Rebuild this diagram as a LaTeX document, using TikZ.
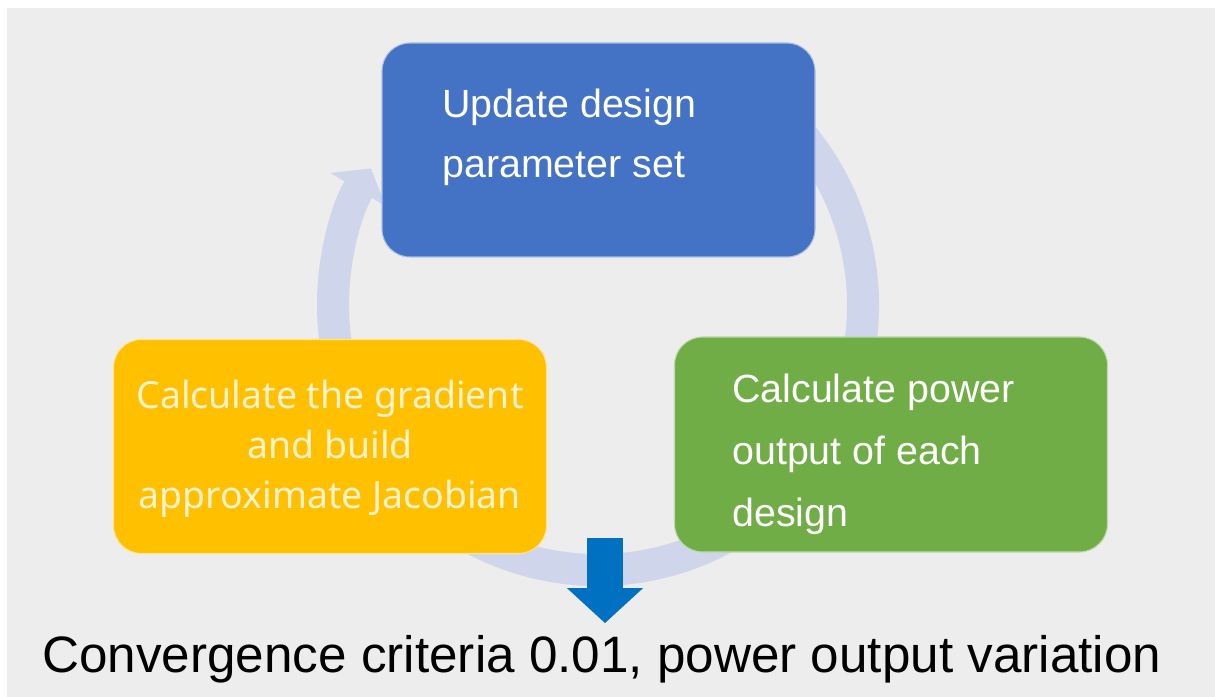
\documentclass[tikz,border=0pt]{standalone}
\usepackage{fontspec}
\setmainfont{Liberation Sans}
\newfontfamily\yahei{Noto Sans}
\usetikzlibrary{arrows.meta}
\definecolor{cycblue}{HTML}{4472C4}
\definecolor{cycyellow}{HTML}{FFC000}
\definecolor{cycgreen}{HTML}{70AD47}
\definecolor{cycring}{HTML}{CFD5EA}
\definecolor{cycdown}{HTML}{0070C0}
\definecolor{cycbg}{HTML}{EDEDED}
\definecolor{cyccream}{HTML}{FFF2CC}

\begin{document}
\begin{tikzpicture}[x=0.2mm,y=-0.2mm,
  box/.style={draw=white!55!#1,fill=#1,line width=0.6pt,rounded corners=5.6mm,
              minimum width=86.6mm,minimum height=42.8mm,inner sep=0pt},
  lab/.style={font=\fontsize{22.4pt}{34.1pt}\selectfont,text=white,
              align=left,inner sep=0pt},
  ring/.style={draw=cycring,line width=18.2pt,line cap=butt,
               -{Triangle[length=14pt,width=36pt]}},
  downarr/.style={draw=cycdown,line width=20.5pt,line cap=butt,
                  -{Triangle[length=19.9pt,width=42.1pt]}}]
\useasboundingbox (0,0) rectangle (1215,697);
\fill[white] (0,0) rectangle (1215,697);
\fill[cycbg] (7,8) rectangle (1215,697);
% cycle ring behind the boxes
\coordinate (cen) at (598,305);
\draw[ring] (cen) ++(-60:265) arc[start angle=-60,end angle=211,radius=265];
% the three steps
\node[box=cycblue] (upd) at (598.5,150) {};
\node[box=cycgreen,minimum height=43mm] (pow) at (891,444.5) {};
\node[box=cycyellow] (grad) at (330,446.5) {};
\node[lab,anchor=north west] (updtxt) at (442,88.5) {Update design\\parameter set};
\node[lab,anchor=north west,font=\fontsize{22.4pt}{35.3pt}\selectfont] (powtxt)
  at (732,373.2) {Calculate power\\output of each\\design};
\node[lab,anchor=north,align=center,text=cyccream,
      font=\yahei\fontsize{21.3pt}{28.5pt}\selectfont] (gradtxt)
  at (330,379.6) {Calculate the gradient\\and build\\approximate Jacobian};
% result
\node[anchor=base west,inner sep=0pt,font=\fontsize{29.15pt}{35pt}\selectfont] (conv)
  at (42,672) {Convergence criteria 0.01, power output variation};
\coordinate (dn) at (605,538);
\draw[downarr,shorten >=6.5pt] (dn) -- (dn |- conv.north);
\end{tikzpicture}
\end{document}
